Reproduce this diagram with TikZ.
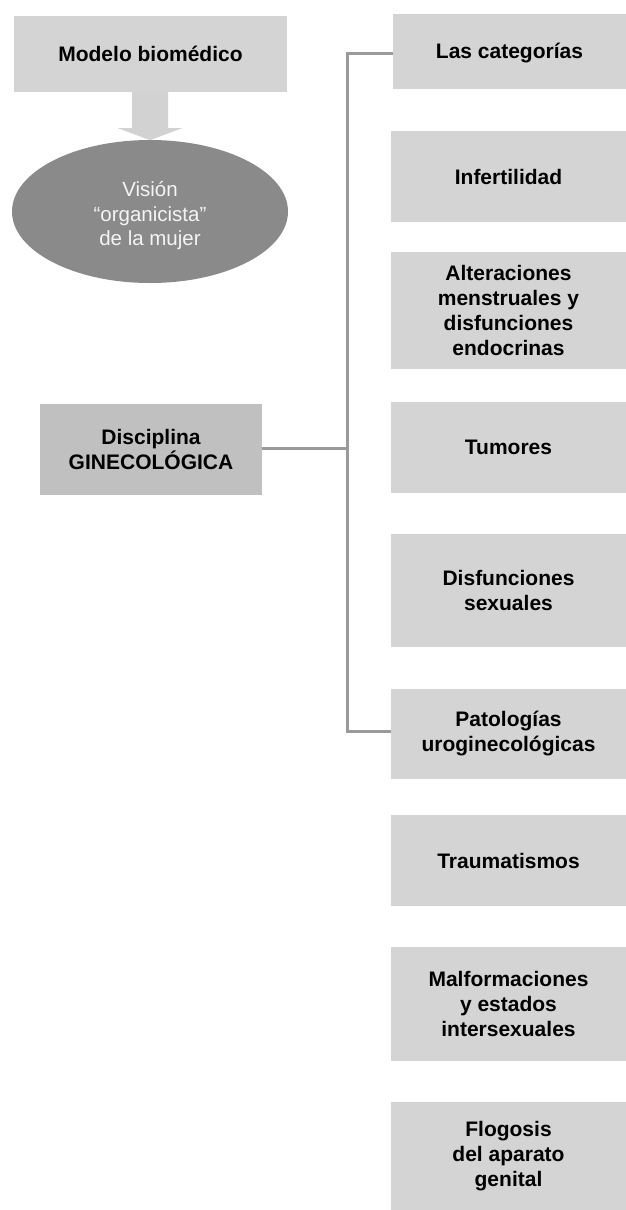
\documentclass[tikz,border=0pt]{standalone}
\usepackage{fontspec}
\setmainfont{Liberation Sans}
\usetikzlibrary{calc,shapes.geometric}
\definecolor{boxgray}{HTML}{D4D4D4}
\definecolor{discgray}{HTML}{C0C0C0}
\definecolor{ellgray}{HTML}{8A8A8A}
\definecolor{arrgray}{HTML}{D2D2D2}
\definecolor{linegray}{HTML}{9A9A9A}
\definecolor{elltext}{HTML}{F4F4F4}
\begin{document}
\begin{tikzpicture}[x=1pt,y=-1pt,
  catbox/.style={fill=boxgray,draw=none,inner sep=0pt,minimum width=235pt,align=center,
    font=\fontsize{21}{25}\selectfont\bfseries},
  discbox/.style={fill=discgray,draw=none,inner sep=0pt,minimum width=222pt,minimum height=91pt,align=center,
    font=\fontsize{21}{25}\selectfont\bfseries},
  topbox/.style={fill=boxgray,draw=none,inner sep=0pt,minimum width=273pt,minimum height=76pt,align=center,
    font=\fontsize{21}{25}\selectfont\bfseries},
  oval/.style={ellipse,fill=ellgray,draw=none,inner sep=0pt,minimum width=276pt,minimum height=143pt,align=center,
    text=elltext,font=\fontsize{20.5}{24.5}\selectfont},
  link/.style={draw=linegray,line width=3pt,line join=miter}]
\useasboundingbox (0,0) rectangle (626,1210);

% top block
\node[topbox] (modelo) at (150.5,54) {Modelo biomédico};
\fill[arrgray] ($(modelo.south)+(-18.5,0)$) -- ++(36,0) -- ++(0,36) -- ++(14,0)
  -- ($(modelo.south)+(-0.5,48)$) -- ++(-32,-12) -- ++(14,0) -- cycle;
\node[oval] (vision) at (150,211.5) {\rule{0pt}{24pt}Visión\\“organicista”\\de la mujer};

% discipline
\node[discbox] (disc) at (151,449.5) {Disciplina\\GINECOLÓGICA};

% categories
\node[catbox,minimum width=233pt,minimum height=75pt] (cat) at (509.5,51.5) {\rule{0pt}{19pt}Las categorías};
\node[catbox,minimum height=91pt]  (inf) at (508.5,176.5) {Infertilidad};
\node[catbox,minimum height=117pt] (alt) at (508.5,310.5) {Alteraciones\\menstruales y\\disfunciones\\endocrinas};
\node[catbox,minimum height=91pt]  (tum) at (508.5,447.5) {Tumores};
\node[catbox,minimum height=113pt] (dis) at (508.5,590.5) {Disfunciones\\sexuales};
\node[catbox,minimum height=90pt]  (pat) at (508.5,734) {Patologías\\uroginecológicas};
\node[catbox,minimum height=91pt]  (tra) at (508.5,860.5) {Traumatismos};
\node[catbox,minimum height=114pt] (mal) at (508.5,1004) {Malformaciones\\y estados\\intersexuales};
\node[catbox,minimum height=108pt] (flo) at (508.5,1156) {Flogosis\\del aparato\\genital};

% bracket connectors
\coordinate (bustop) at (347,53);
\coordinate (busbot) at (347,731);
\draw[link] (cat.west |- bustop) -- (bustop) -- (busbot) -- (pat.west |- busbot);
\draw[link] (disc.east |- 0,448) -- (347,448);
\end{tikzpicture}
\end{document}
